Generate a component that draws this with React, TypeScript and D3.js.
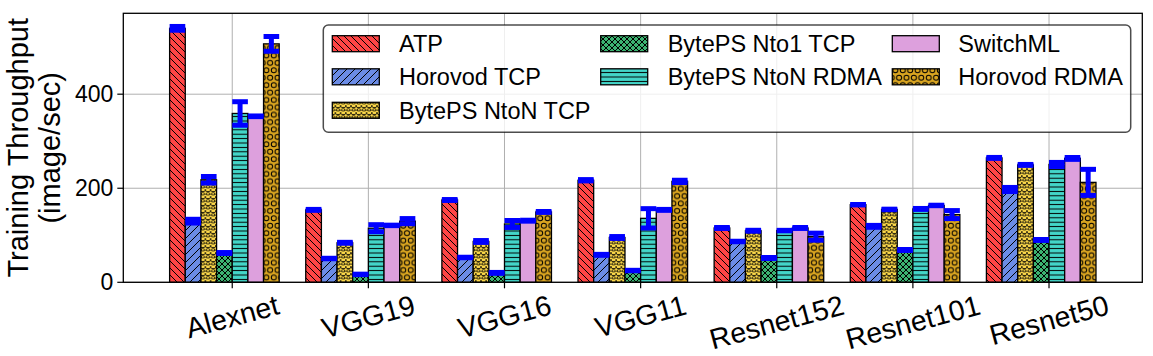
import React from 'react';
import * as d3 from 'd3';

const categories = ['Alexnet', 'VGG19', 'VGG16', 'VGG11', 'Resnet152', 'Resnet101', 'Resnet50'];
const seriesNames = ['ATP', 'Horovod TCP', 'BytePS NtoN TCP', 'BytePS Nto1 TCP', 'BytePS NtoN RDMA', 'SwitchML', 'Horovod RDMA'];

const atp = [540, 154, 175, 217, 115.5, 165, 264.5];
const horovodTcp = [130, 50.6, 52.8, 58.4, 86.8, 119, 197.4];
const bytepsNtoNTcp = [218, 84, 86.8, 95.3, 109.6, 155, 249.6];
const bytepsNto1Tcp = [62.3, 16.8, 20, 25, 51.7, 68.7, 90];
const bytepsNtoNRdma = [359, 115, 124, 136, 110, 156, 250.6];
const switchML = [353, 121, 131, 154, 115.5, 163.4, 263.4];
const horovodRdma = [507, 130, 149.6, 214.5, 97, 144, 212.5];

const atpErr = [4, 1, 1, 1.4, 1, 0.5, 1];
const horovodTcpErr = [4, 0.5, 0.5, 1, 0.5, 2, 4.3];
const bytepsNtoNTcpErr = [7, 1, 2, 2, 1, 0.5, 1];
const bytepsNto1TcpErr = [1, 0.5, 1, 0.5, 1, 1, 1];
const bytepsNtoNRdmaErr = [25, 7.5, 7.4, 20.6, 0.5, 1, 4.3];
const switchMLErr = [0.7, 0.5, 1, 1, 1, 0.5, 2];
const horovodRdmaErr = [15.7, 5.5, 1, 2.5, 7.5, 8.5, 27.7];

const yTicks = [0, 200, 400];

const colors = ['#ff4545', '#6b8ce6', '#fdd94a', '#3cb371', '#43d6c9', '#dda0dd', '#daa520'];

const FONT = "'Liberation Sans', Arial, sans-serif";

function textWidth(s: string, size: number) {
  const c = document.createElement('canvas').getContext('2d');
  if (!c) return s.length * size * 0.55;
  c.font = `${size}px ${FONT}`;
  return c.measureText(s).width;
}

const starPath = d3.symbol().type(d3.symbolStar).size(13)() as string;

function Patterns() {
  const hs = { stroke: '#000', strokeWidth: 1, fill: 'none' } as const;
  return (
    <defs>
      <pattern id="p0" patternUnits="userSpaceOnUse" width={7} height={7}>
        <rect width={7} height={7} fill={colors[0]} />
        <path d="M-1,-1 L8,8 M-4.5,2.5 L1,8 M6,-1 L8.5,1.5" {...hs} />
      </pattern>
      <pattern id="p1" patternUnits="userSpaceOnUse" width={8} height={8}>
        <rect width={8} height={8} fill={colors[1]} />
        <path d="M-1,9 L9,-1 M-2,2 L2,-2 M6,10 L10,6" {...hs} />
      </pattern>
      <pattern id="p2" patternUnits="userSpaceOnUse" width={5.2} height={7}>
        <rect width={5.2} height={7} fill={colors[2]} />
        <path d={starPath} transform="translate(2.6,3.5)" stroke="#000" strokeWidth={0.75} fill="none" />
      </pattern>
      <pattern id="p3" patternUnits="userSpaceOnUse" width={6} height={6}>
        <rect width={6} height={6} fill={colors[3]} />
        <path d="M-1,-1 L7,7 M-1,7 L7,-1" {...hs} />
      </pattern>
      <pattern id="p4" patternUnits="userSpaceOnUse" width={6} height={4.4}>
        <rect width={6} height={4.4} fill={colors[4]} />
        <path d="M-1,2.2 L7,2.2" {...hs} />
      </pattern>
      <pattern id="p6" patternUnits="userSpaceOnUse" width={7.4} height={14.8}>
        <rect width={7.4} height={14.8} fill={colors[6]} />
        <circle cx={3.7} cy={3.7} r={2.5} {...hs} />
        <circle cx={0} cy={11.1} r={2.5} {...hs} />
        <circle cx={7.4} cy={11.1} r={2.5} {...hs} />
      </pattern>
    </defs>
  );
}

function fillFor(i: number) {
  return i === 5 ? colors[5] : `url(#p${i})`;
}

export default function App() {
  const series = [atp, horovodTcp, bytepsNtoNTcp, bytepsNto1Tcp, bytepsNtoNRdma, switchML, horovodRdma];
  const errs = [atpErr, horovodTcpErr, bytepsNtoNTcpErr, bytepsNto1TcpErr, bytepsNtoNRdmaErr, switchMLErr, horovodRdmaErr];

  const W = 1153, H = 356;
  const left = 123.3, right = 1142.3, top = 13.3, bottom = 282.3;
  const barW = 0.115;
  const dMin = -4 * barW, dMax = categories.length - 1 + 3 * barW;
  const pad = (dMax - dMin) * 0.05;
  const x = d3.scaleLinear().domain([dMin - pad, dMax + pad]).range([left, right]);
  const y = d3.scaleLinear().domain([0, 572]).range([bottom, top]);
  const bw = x(barW) - x(0);
  const tickLen = 6;
  const capHalf = bw / 2;
  const errLW = 5;

  const xLabelSize = 28.5;
  const rot = 15 * Math.PI / 180;

  const legendCols = [
    { hx: 332.3, tx: 399 },
    { hx: 600.7, tx: 667.7 },
    { hx: 892.3, tx: 958.3 },
  ];
  const legendRows = [43.7, 76.8, 110.3];
  const legendItems = [0, 1, 2, 3, 4, 5, 6].map((i) => {
    const col = i < 3 ? 0 : i < 5 ? 1 : 2;
    const row = i < 3 ? i : i < 5 ? i - 3 : i - 5;
    return { i, col, row };
  });

  return (
    <svg width={W} height={H} style={{ position: 'absolute', left: 0, top: 0, background: '#fff' }} fontFamily={FONT}>
      <Patterns />
      <rect x={0} y={0} width={W} height={H} fill="#fff" />
      {yTicks.map((t) => (
        <line key={'gy' + t} x1={left} x2={right} y1={y(t)} y2={y(t)} stroke="#b0b0b0" strokeWidth={1} />
      ))}
      {categories.map((c, g) => (
        <line key={'gx' + c} x1={x(g)} x2={x(g)} y1={top} y2={bottom} stroke="#b0b0b0" strokeWidth={1} />
      ))}
      {series.map((vals, i) =>
        vals.map((v, g) => (
          <rect
            key={`b${i}-${g}`}
            x={x(g + (i - 4) * barW)}
            y={y(v)}
            width={bw}
            height={y(0) - y(v)}
            fill={fillFor(i)}
            stroke="#000"
            strokeWidth={1.3}
          />
        ))
      )}
      {series.map((vals, i) =>
        vals.map((v, g) => {
          const cx = x(g + (i - 3.5) * barW);
          const e = errs[i][g];
          const y1 = y(v + e), y2 = y(v - e);
          return (
            <g key={`e${i}-${g}`} stroke="#0000ff">
              <line x1={cx} x2={cx} y1={y1} y2={y2} strokeWidth={errLW} />
              <line x1={cx - capHalf} x2={cx + capHalf} y1={y1} y2={y1} strokeWidth={5} />
              <line x1={cx - capHalf} x2={cx + capHalf} y1={y2} y2={y2} strokeWidth={5} />
            </g>
          );
        })
      )}
      <rect x={left} y={top} width={right - left} height={bottom - top} fill="none" stroke="#000" strokeWidth={1.3} />
      {yTicks.map((t) => (
        <g key={'yt' + t}>
          <line x1={left - tickLen} x2={left} y1={y(t)} y2={y(t)} stroke="#000" strokeWidth={1.2} />
          <text x={left - tickLen - 4} y={y(t)} dy="0.35em" textAnchor="end" fontSize={23} fill="#000">
            {t}
          </text>
        </g>
      ))}
      {categories.map((c, g) => {
        const w = textWidth(c, xLabelSize);
        const hb = xLabelSize * 1.1;
        const cy = 289 + (w * Math.sin(rot) + hb * Math.cos(rot)) / 2;
        return (
          <g key={'xt' + c}>
            <line x1={x(g)} x2={x(g)} y1={bottom} y2={bottom + tickLen} stroke="#000" strokeWidth={1.2} />
            <text
              transform={`translate(${x(g)},${cy}) rotate(-15)`}
              textAnchor="middle"
              dy="0.35em"
              fontSize={xLabelSize}
              fill="#000"
            >
              {c}
            </text>
          </g>
        );
      })}
      <g transform={`translate(0,${(top + bottom) / 2}) rotate(-90)`}>
        <text x={0} y={28} textAnchor="middle" fontSize={29} fill="#000">Training Throughput</text>
        <text x={0} y={60} textAnchor="middle" fontSize={29} fill="#000">(image/sec)</text>
      </g>
      <rect x={323.3} y={25} width={1130.7 - 323.3} height={132.3 - 25} rx={5} ry={5} fill="#fff" fillOpacity={0.8} stroke="#000" strokeOpacity={0.7} strokeWidth={1.5} />
      {legendItems.map(({ i, col, row }) => (
        <g key={'lg' + i}>
          <rect x={legendCols[col].hx} y={legendRows[row] - 8} width={47} height={16} fill={fillFor(i)} stroke="#000" strokeWidth={1.3} />
          <text x={legendCols[col].tx} y={legendRows[row]} dy="0.36em" fontSize={23.5} fill="#000">
            {seriesNames[i]}
          </text>
        </g>
      ))}
    </svg>
  );
}
